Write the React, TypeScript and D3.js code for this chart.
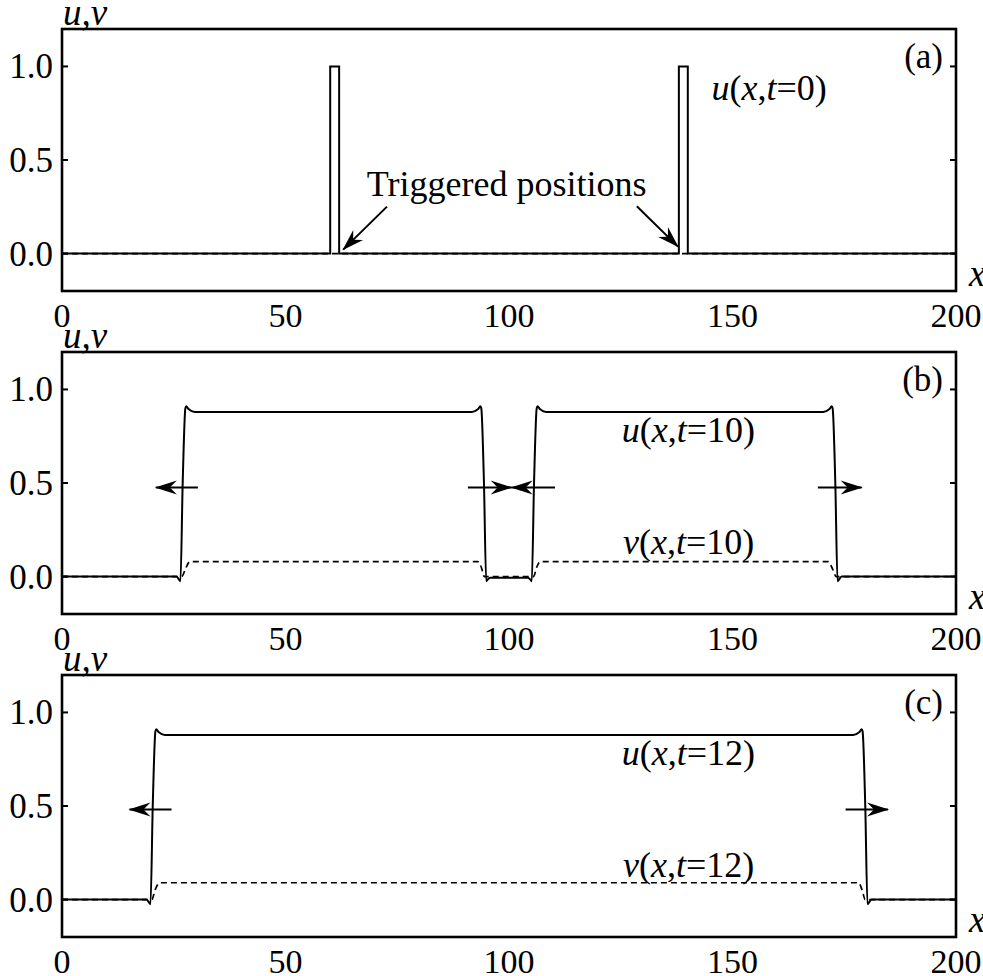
import { useEffect, useRef } from 'react';
import * as d3 from 'd3';

type Pt = [number, number];

// axis ticks
const xTicks = [0, 50, 100, 150, 200];
const yTicks = [0, 0.5, 1.0];
const panelTags = ['(a)', '(b)', '(c)'];

// (a) initial condition, t = 0: two narrow triggered pulses
const uA: Pt[] = [[0, 0], [60, 0], [60, 1], [62, 1], [62, 0], [138, 0], [138, 1], [140, 1], [140, 0], [200, 0]];
const vA: Pt[] = [[0, 0], [200, 0]];

// (b) t = 10: two pulses, four fronts
const uB: Pt[] = [
  [0, 0], [25.6, 0], [26.3, -0.02], [26.5, -0.025], [27.0, 0.5], [27.6, 0.9], [27.8, 0.91], [28.3, 0.895], [29.7, 0.88],
  [91.7, 0.88], [93.1, 0.895], [93.6, 0.91], [93.8, 0.9], [94.4, 0.5], [94.9, -0.025], [95.1, -0.02], [95.8, -0.006],
  [104.2, -0.006], [104.9, -0.02], [105.1, -0.025], [105.6, 0.5], [106.2, 0.9], [106.4, 0.91], [106.9, 0.895], [108.3, 0.88],
  [170.3, 0.88], [171.7, 0.895], [172.2, 0.91], [172.4, 0.9], [173.0, 0.5], [173.5, -0.025], [173.7, -0.02], [174.4, 0], [200, 0],
];
const vB: Pt[] = [
  [0, 0], [26.8, 0], [27.6, 0.04], [28.6, 0.08], [93.0, 0.08], [93.8, 0.05], [94.5, 0],
  [105.5, 0], [106.2, 0.05], [107.0, 0.08], [171.4, 0.08], [172.4, 0.04], [173.2, 0], [200, 0],
];

// (c) t = 12: the inner fronts have annihilated
const uC: Pt[] = [
  [0, 0], [18.9, 0], [19.6, -0.02], [19.8, -0.025], [20.3, 0.5], [20.9, 0.9], [21.1, 0.91], [21.6, 0.895], [23.0, 0.88],
  [177.0, 0.88], [178.4, 0.895], [178.9, 0.91], [179.1, 0.9], [179.7, 0.5], [180.2, -0.025], [180.4, -0.02], [181.1, 0], [200, 0],
];
const vC: Pt[] = [[0, 0], [20.1, 0], [20.8, 0.05], [21.9, 0.09], [178.2, 0.09], [179.0, 0.05], [179.7, 0], [200, 0]];

type Part = [string, boolean];
const lbl = (name: string, t: string): Part[] => [[name, true], ['(', false], ['x', true], [',', false], ['t', true], ['=' + t + ')', false]];

const panels = [
  {
    u: uA, v: vA, smooth: false,
    labels: [{ x: 145.3, y: 0.818, parts: lbl('u', '0') }, { x: 68.2, y: 0.31, parts: [['Triggered positions', false]] as Part[] }],
    arrows: [{ from: [72.7, 0.251], to: [62.9, 0.021] }, { from: [128.6, 0.253], to: [137.8, 0.037] }],
  },
  {
    u: uB, v: vB, smooth: true,
    labels: [{ x: 125.2, y: 0.717, parts: lbl('u', '10') }, { x: 125.5, y: 0.123, parts: lbl('v', '10') }],
    arrows: [
      { from: [30.4, 0.476], to: [21.0, 0.476] }, { from: [90.8, 0.476], to: [100.6, 0.476] },
      { from: [110.3, 0.476], to: [100.6, 0.476] }, { from: [169.1, 0.476], to: [178.9, 0.476] },
    ],
  },
  {
    u: uC, v: vC, smooth: true,
    labels: [{ x: 125.2, y: 0.717, parts: lbl('u', '12') }, { x: 125.5, y: 0.123, parts: lbl('v', '12') }],
    arrows: [{ from: [24.5, 0.481], to: [15.1, 0.481] }, { from: [175.3, 0.481], to: [184.8, 0.481] }],
  },
];

const W = 983;
const H = 976;
const FONT = '"Liberation Serif", "Times New Roman", serif';

export default function App() {
  const ref = useRef<SVGSVGElement>(null);

  useEffect(() => {
    const svg = d3.select(ref.current);
    svg.selectAll('*').remove();

    const left = 62, right = 956, ph = 262, step = 323, top0 = 29;
    const x = d3.scaleLinear().domain([0, 200]).range([left, right]);

    svg.append('defs').append('marker')
      .attr('id', 'head')
      .attr('markerUnits', 'userSpaceOnUse')
      .attr('viewBox', '-23 -9 25 18')
      .attr('refX', 0).attr('refY', 0)
      .attr('markerWidth', 25).attr('markerHeight', 18)
      .attr('orient', 'auto')
      .append('path')
      .attr('d', 'M1,0 L-21,-7 L-14,0 L-21,7 Z')
      .attr('fill', '#000');

    panels.forEach((p, i) => {
      const top = top0 + i * step;
      const y = d3.scaleLinear().domain([-0.2, 1.2]).range([top + ph, top]);
      const g = svg.append('g');

      const line = d3.line<Pt>()
        .x(d => x(d[0]))
        .y(d => y(d[1]))
        .curve(p.smooth ? d3.curveMonotoneX : d3.curveLinear);

      g.append('path').datum(p.u)
        .attr('d', line).attr('fill', 'none').attr('stroke', '#000')
        .attr('stroke-width', 2).attr('stroke-linejoin', 'miter');
      g.append('path').datum(p.v)
        .attr('d', line).attr('fill', 'none').attr('stroke', '#000')
        .attr('stroke-width', 1.7).attr('stroke-dasharray', '6,4');

      // frame: left, top, right, bottom
      g.append('rect')
        .attr('x', left).attr('y', top).attr('width', right - left).attr('height', ph)
        .attr('fill', 'none').attr('stroke', '#000').attr('stroke-width', 2.6);

      yTicks.forEach(t => {
        g.append('line').attr('x1', left).attr('x2', left + 6).attr('y1', y(t)).attr('y2', y(t))
          .attr('stroke', '#000').attr('stroke-width', 2);
        g.append('line').attr('x1', right - 6).attr('x2', right).attr('y1', y(t)).attr('y2', y(t))
          .attr('stroke', '#000').attr('stroke-width', 2);
        g.append('text').attr('x', left - 9).attr('y', y(t) + 12)
          .attr('text-anchor', 'end').attr('font-family', FONT).attr('font-size', 35)
          .text(d3.format('.1f')(t));
      });

      xTicks.forEach(t => {
        g.append('text').attr('x', x(t)).attr('y', top + ph + 36)
          .attr('text-anchor', 'middle').attr('font-family', FONT).attr('font-size', 34)
          .text(t);
      });

      g.append('text').attr('x', left + 1).attr('y', top - 4)
        .attr('font-family', FONT).attr('font-size', 37).attr('font-style', 'italic')
        .text('u,v');
      g.append('text').attr('x', right + 13).attr('y', top + ph - 5)
        .attr('font-family', FONT).attr('font-size', 37).attr('font-style', 'italic')
        .text('x');

      g.append('text').attr('x', right - 13).attr('y', y(1) + 2)
        .attr('text-anchor', 'end').attr('font-family', FONT).attr('font-size', 35)
        .text(panelTags[i]);

      p.labels.forEach(l => {
        const t = g.append('text').attr('x', x(l.x)).attr('y', y(l.y))
          .attr('font-family', FONT).attr('font-size', 36);
        l.parts.forEach(([s, it]) => {
          t.append('tspan').attr('font-style', it ? 'italic' : 'normal').text(s);
        });
      });

      p.arrows.forEach(a => {
        g.append('line')
          .attr('x1', x(a.from[0])).attr('y1', y(a.from[1]))
          .attr('x2', x(a.to[0])).attr('y2', y(a.to[1]))
          .attr('stroke', '#000').attr('stroke-width', 2)
          .attr('marker-end', 'url(#head)');
      });
    });
  }, []);

  return (
    <svg ref={ref} width={W} height={H}
      style={{ position: 'absolute', left: 0, top: 0, background: '#fff' }} />
  );
}
